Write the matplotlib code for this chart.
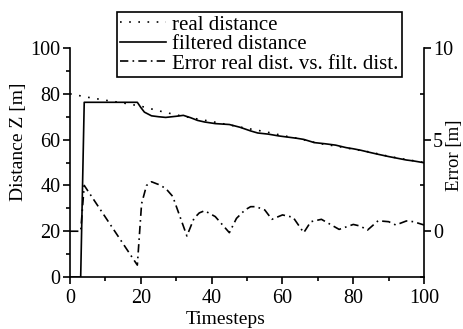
import matplotlib
matplotlib.use("Agg")
import matplotlib.pyplot as plt
from matplotlib.ticker import MultipleLocator

plt.rcParams['font.family'] = ['Liberation Serif', 'DejaVu Serif']
plt.rcParams['font.size'] = 14

# real distance (dotted)
t_real = [0, 5, 10, 15, 20, 25, 30, 35, 40, 45, 50, 55, 60, 65, 70, 75, 80, 85, 90, 95, 100]
real_dist = [80, 78.5, 77.2, 76, 74.6, 72.6, 70.8, 69.3, 67.9, 66.4, 64.9, 63.5, 61.8,
             60.3, 58.4, 57.2, 55.8, 54.5, 52.7, 51.3, 50]

# filtered distance (solid)
t_filt = [0, 3, 4, 19, 20, 21, 23, 25, 27, 30, 32, 34, 36, 38, 41, 45, 48, 51, 53, 56,
          59, 62, 64, 66, 69, 72, 75, 78, 80, 82, 85, 87, 90, 92, 95, 97, 100]
filt_dist = [0, 0, 76.3, 76.3, 74, 72, 70.4, 70, 69.7, 70.2, 70.6, 69.6, 68.4, 67.7, 67,
             66.6, 65.4, 63.8, 62.9, 62.4, 61.6, 61, 60.6, 60.1, 58.7, 58.2, 57.6, 56.5,
             56, 55.4, 54.3, 53.6, 52.6, 52, 51.1, 50.7, 49.9]

# error real vs filtered (dash-dot, right axis)
t_err = [0, 3, 4, 19, 20.2, 21.6, 23, 25, 27, 29, 33, 35, 36.5, 38, 41, 45, 47, 49.4, 51,
         52.5, 55, 57, 60, 63, 66, 68, 71, 76, 80, 82, 84, 87, 90, 92, 95, 97, 100]
err = [0, 0, 2.5, -1.85, 1.5, 2.5, 2.7, 2.55, 2.34, 1.9, -0.26, 0.7, 1.0, 1.12, 0.8, -0.08,
       0.7, 1.16, 1.34, 1.34, 1.16, 0.65, 0.89, 0.76, -0.08, 0.52, 0.65, 0.1, 0.37, 0.28,
       0.06, 0.57, 0.52, 0.34, 0.56, 0.52, 0.34]

fig = plt.figure(figsize=(4.64, 3.29), dpi=100)
ax = fig.add_axes([0.151, 0.158, 0.763, 0.696])
ax2 = ax.twinx()

l1, = ax.plot(t_real, real_dist, color='black', lw=1.2, linestyle=(0, (1, 4.5)),
              label='real distance')
l2, = ax.plot(t_filt, filt_dist, color='black', lw=1.2, label='filtered distance')
l3, = ax2.plot(t_err, err, color='black', lw=1.2, linestyle=(0, (5, 2.5, 1, 2.5)),
               label='Error real dist. vs. filt. dist.')

ax.set_xlim(0, 100)
ax.set_ylim(0, 100)
ax2.set_ylim(-2.5, 10)

ax.xaxis.set_major_locator(MultipleLocator(20))
ax.xaxis.set_minor_locator(MultipleLocator(10))
ax.yaxis.set_major_locator(MultipleLocator(20))
ax.yaxis.set_minor_locator(MultipleLocator(10))
ax2.yaxis.set_major_locator(MultipleLocator(5))
ax2.yaxis.set_minor_locator(MultipleLocator(2.5))

for a in (ax, ax2):
    a.spines['top'].set_visible(False)
    for s in a.spines.values():
        s.set_linewidth(1.2)
ax.spines['right'].set_visible(False)
ax2.spines['left'].set_visible(False)
ax2.spines['bottom'].set_visible(False)

ax.tick_params(which='major', direction='out', length=5, width=1.2, labelsize=14.5, pad=2)
ax.tick_params(axis='x', which='major', pad=3.5)
ax.tick_params(which='minor', direction='out', length=3, width=1.2)
ax2.tick_params(which='major', direction='out', length=5, width=1.2, labelsize=14.5, pad=1.5)
ax2.tick_params(which='minor', direction='in', length=3, width=1.2)

ax.set_xlabel('Timesteps', fontsize=14)
ax.set_ylabel('Distance Z [m]', fontsize=14)
ax2.set_ylabel('Error [m]', fontsize=13.5)
ax.xaxis.set_label_coords(0.44, -0.15)
ax.yaxis.set_label_coords(-0.121, 0.59)
ax2.yaxis.set_label_coords(1.062, 0.53)

leg = fig.legend(handles=[l1, l2, l3], loc='upper left', bbox_to_anchor=(0.252, 0.964),
                 fontsize=15, frameon=True, fancybox=False, edgecolor='black',
                 framealpha=1, labelspacing=0.0, handlelength=2.2, handletextpad=0.3,
                 borderpad=0.15, borderaxespad=0)
leg.get_frame().set_linewidth(1.2)

fig.savefig('out.png', dpi=100)
